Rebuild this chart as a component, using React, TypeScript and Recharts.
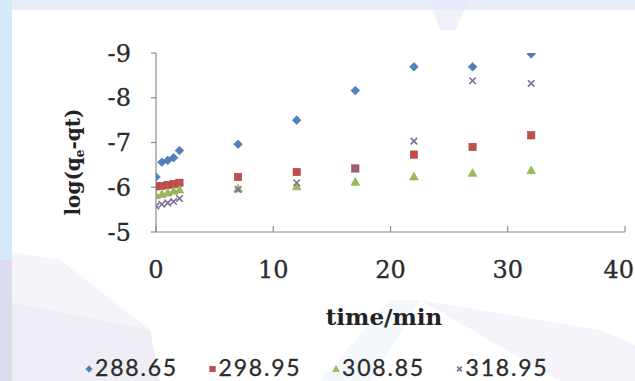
import React from 'react';
import { ScatterChart, Scatter, XAxis, YAxis, Label } from 'recharts';

const times = [0, 0.5, 1, 1.5, 2, 7, 12, 17, 22, 27, 32];
const s28865 = [-6.23, -6.56, -6.6, -6.66, -6.82, -6.96, -7.5, -8.16, -8.69, -8.69, -8.98];
const s29895 = [-6.02, -6.03, -6.05, -6.07, -6.1, -6.23, -6.34, -6.42, -6.73, -6.9, -7.16];
const s30885 = [-5.82, -5.85, -5.88, -5.92, -5.95, -5.97, -6.02, -6.12, -6.24, -6.32, -6.38];
const s31895 = [-5.58, -5.62, -5.65, -5.68, -5.75, -5.95, -6.1, -6.42, -7.03, -8.38, -8.32];
const seriesNames = ['288.65', '298.95', '308.85', '318.95'];
const xTicks = [0, 10, 20, 30, 40];
const yTicks = [-9, -8, -7, -6, -5];

const colors = ['#4F81BD', '#C0504D', '#9BBB59', '#7E6C9E'];
const FONT = '"DejaVu Serif", serif';
const SANS = 'Lato, "Open Sans", sans-serif';
const AXIS = '#8C8C8C';

const toPoints = (vals: number[]) => vals.map((v, i) => ({ t: times[i], v }));
const allSeries = [s28865, s29895, s30885, s31895];

const Marker = ({ kind, cx, cy, s }: { kind: number; cx: number; cy: number; s: number }) => {
  const c = colors[kind];
  if (kind === 0) {
    return <polygon points={`${cx},${cy - s} ${cx + s},${cy} ${cx},${cy + s} ${cx - s},${cy}`} fill={c} stroke="#3E6FA8" strokeWidth={0.6} />;
  }
  if (kind === 1) {
    return <rect x={cx - s * 0.85} y={cy - s * 0.85} width={s * 1.7} height={s * 1.7} fill={c} stroke="#A9413E" strokeWidth={0.6} />;
  }
  if (kind === 2) {
    return <polygon points={`${cx},${cy - s} ${cx + s},${cy + s * 0.8} ${cx - s},${cy + s * 0.8}`} fill={c} stroke="#8AA84E" strokeWidth={0.6} />;
  }
  const d = s * 0.75;
  return (
    <g stroke={c} strokeWidth={1.6}>
      <line x1={cx - d} y1={cy - d} x2={cx + d} y2={cy + d} />
      <line x1={cx - d} y1={cy + d} x2={cx + d} y2={cy - d} />
    </g>
  );
};

const XTick = (props: any) => {
  const { x, y, payload, index } = props;
  const last = index === xTicks.length - 1;
  return (
    <g>
      <line x1={x} y1={y} x2={x} y2={y - 6} stroke={AXIS} strokeWidth={1.2} />
      <text
        x={last ? 634 : x}
        y={y + 46}
        textAnchor={last ? 'end' : 'middle'}
        fontFamily={FONT}
        fontSize={24}
        fill="#2b2b2b"
        stroke="#2b2b2b"
        strokeWidth={0.3}
      >
        {payload.value}
      </text>
    </g>
  );
};

const YLabel = () => (
  <text
    x={80}
    y={162}
    transform="rotate(-90, 80, 162)"
    textAnchor="middle"
    fontFamily={FONT}
    fontSize={20}
    fontWeight="bold"
    fill="#222"
  >
    <tspan>log(q</tspan>
    <tspan dy={4} fontSize={12}>e</tspan>
    <tspan dy={-4}>-qt)</tspan>
  </text>
);

const XLabel = () => (
  <text x={384} y={325} textAnchor="middle" fontFamily={FONT} fontSize={23} fontWeight="bold" fill="#222">
    time/min
  </text>
);

export default function App() {
  return (
    <div
      style={{
        position: 'fixed',
        left: 0,
        top: 0,
        width: 635,
        height: 381,
        overflow: 'hidden',
        background: '#ffffff',
      }}
    >
      <svg width={635} height={381} style={{ position: 'absolute', left: 0, top: 0 }}>
        <polygon points="0,300 150,330 160,381 0,381" fill="#e4e2f2" opacity={0.6} />
        <polygon points="0,250 60,260 150,330 0,300" fill="#eeedf7" opacity={0.6} />
        <polygon points="320,381 390,300 420,300 370,381" fill="#f0f6fc" opacity={0.8} />
        <polygon points="420,300 600,330 635,345 635,381 560,381" fill="#f2f0f9" opacity={0.7} />
        <polygon points="0,0 635,0 635,10 0,10" fill="#e8edf9" />
        <polygon points="430,0 470,0 455,30 440,30" fill="#e9e7f6" opacity={0.6} />
        <rect x={0} y={0} width={12} height={381} fill="#d6e9f8" />
        <rect x={0} y={260} width={12} height={121} fill="#dcdcef" />
      </svg>
      <div style={{ position: 'absolute', left: 0, top: 0 }}>
        <ScatterChart width={635} height={381} margin={{ top: 53, right: 10, bottom: 49, left: 96 }}>
          <XAxis
            type="number"
            dataKey="t"
            domain={[0, 40]}
            ticks={xTicks}
            interval={0}
            height={100}
            tickSize={0}
            tickMargin={0}
            tick={<XTick />}
            stroke={AXIS}
            strokeWidth={1.2}
            allowDataOverflow
          >
            <Label content={<XLabel />} />
          </XAxis>
          <YAxis
            type="number"
            dataKey="v"
            domain={[-9, -5]}
            reversed
            ticks={yTicks}
            interval={0}
            width={60}
            tickSize={5}
            tickMargin={20}
            stroke={AXIS}
            strokeWidth={1.2}
            tick={{ fontFamily: FONT, fontSize: 24, fill: '#2b2b2b', stroke: '#2b2b2b', strokeWidth: 0.3 }}
            allowDataOverflow
          >
            <Label content={<YLabel />} />
          </YAxis>
          {allSeries.map((vals, k) => (
            <Scatter
              key={seriesNames[k]}
              name={seriesNames[k]}
              data={toPoints(vals)}
              isAnimationActive={false}
              shape={(p: any) => <Marker kind={k} cx={p.cx} cy={p.cy} s={4.3} />}
            />
          ))}
        </ScatterChart>
      </div>
      <svg width={635} height={381} style={{ position: 'absolute', left: 0, top: 0, pointerEvents: 'none' }}>
        {seriesNames.map((name, k) => {
          const x0 = 89 + k * 123.5;
          return (
            <g key={name}>
              <Marker kind={k} cx={x0} cy={369} s={3.2} />
              <text
                x={x0 + 6}
                y={376}
                fontFamily={SANS}
                fontSize={23}
                letterSpacing={1.8}
                fill="#2b2b2b"
                stroke="#2b2b2b"
                strokeWidth={0.3}
              >
                {name}
              </text>
            </g>
          );
        })}
      </svg>
    </div>
  );
}
